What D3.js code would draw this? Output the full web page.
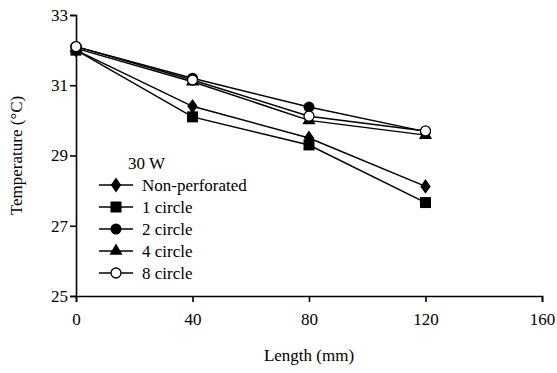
<!DOCTYPE html>
<html><head><meta charset="utf-8">
<script src="https://cdn.jsdelivr.net/npm/d3@7"></script>
<style>body{margin:0;background:#fff}svg{display:block}</style>
</head><body>
<script>
const lengths = [0, 40, 80, 120];
const seriesNames = ["Non-perforated", "1 circle", "2 circle", "4 circle", "8 circle"];
const nonPerforated = [32.0, 30.4, 29.5, 28.12];
const circle1 = [32.0, 30.1, 29.3, 27.66];
const circle2 = [32.1, 31.2, 30.38, 29.68];
const circle4 = [32.05, 31.1, 30.0, 29.58];
const circle8 = [32.1, 31.15, 30.12, 29.7];
const symbols = ["diamond", "square", "circle", "triangle", "opencircle"];
const xTicks = [0, 40, 80, 120, 160];
const yTicks = [25, 27, 29, 31, 33];
const legendTitle = "30 W";

const W = 557, H = 373;
const m = {l: 76, r: 15, t: 15, b: 77};
const svg = d3.select("body").append("svg").attr("width", W).attr("height", H)
  .attr("font-family", "Liberation Serif");
const x = d3.scaleLinear().domain([0, 160]).range([m.l, W - m.r]);
const y = d3.scaleLinear().domain([25, 33]).range([H - m.b, m.t]);
const FF = '"Liberation Serif"';
const fs = "17px";
function styleText(sel) { return sel.style("font-family", FF).style("font-size", fs).attr("fill", "#000"); }

const xa = svg.append("g").attr("transform", `translate(0,${H - m.b})`)
  .call(d3.axisBottom(x).tickValues(xTicks).tickSize(6).tickPadding(11).tickFormat(d3.format("d")));
const ya = svg.append("g").attr("transform", `translate(${m.l},0)`)
  .call(d3.axisLeft(y).tickValues(yTicks).tickSize(6).tickPadding(2).tickFormat(d3.format("d")));
[xa, ya].forEach(a => {
  a.attr("font-family", "Liberation Serif").attr("font-size", 17);
  a.select(".domain").attr("stroke", "#000").attr("stroke-width", 1.6);
  a.selectAll(".tick line").attr("stroke", "#000").attr("stroke-width", 1.6);
  styleText(a.selectAll("text"));
});

styleText(svg.append("text").attr("x", (m.l + W - m.r) / 2).attr("y", 361).attr("text-anchor", "middle")).text("Length (mm)");
styleText(svg.append("text").attr("transform", `translate(22,${(m.t + H - m.b) / 2}) rotate(-90)`)
  .attr("text-anchor", "middle")).text("Temperature (°C)");

const allSeries = [nonPerforated, circle1, circle2, circle4, circle8];
const line = d3.line().x((d, i) => x(lengths[i])).y(d => y(d));

function marker(g, type, cx, cy) {
  if (type === "diamond") g.append("path").attr("d", d3.symbol(d3.symbolDiamond, 70)()).attr("transform", `translate(${cx},${cy}) scale(1.15,0.95)`).attr("fill", "#000");
  else if (type === "square") g.append("rect").attr("x", cx - 5.5).attr("y", cy - 5.5).attr("width", 11).attr("height", 11).attr("fill", "#000");
  else if (type === "circle") g.append("circle").attr("cx", cx).attr("cy", cy).attr("r", 5.5).attr("fill", "#000");
  else if (type === "triangle") g.append("path").attr("d", d3.symbol(d3.symbolTriangle, 75)()).attr("transform", `translate(${cx},${cy})`).attr("fill", "#000");
  else g.append("circle").attr("cx", cx).attr("cy", cy).attr("r", 5).attr("fill", "#fff").attr("stroke", "#000").attr("stroke-width", 1.3);
}

const plot = svg.append("g");
allSeries.forEach((s) => {
  plot.append("path").datum(s).attr("d", line).attr("fill", "none").attr("stroke", "#000").attr("stroke-width", 1.5);
});
allSeries.forEach((s, k) => {
  s.forEach((v, i) => marker(plot, symbols[k], x(lengths[i]), y(v)));
});

const lg = svg.append("g");
styleText(lg.append("text").attr("x", 128).attr("y", 169)).text(legendTitle);
seriesNames.forEach((n, k) => {
  const yy = 185 + k * 22;
  lg.append("line").attr("x1", 99).attr("x2", 133).attr("y1", yy).attr("y2", yy).attr("stroke", "#000").attr("stroke-width", 1.5);
  marker(lg, symbols[k], 116, yy);
  styleText(lg.append("text").attr("x", 142).attr("y", yy + 5.5)).text(n);
});
</script>
</body></html>
